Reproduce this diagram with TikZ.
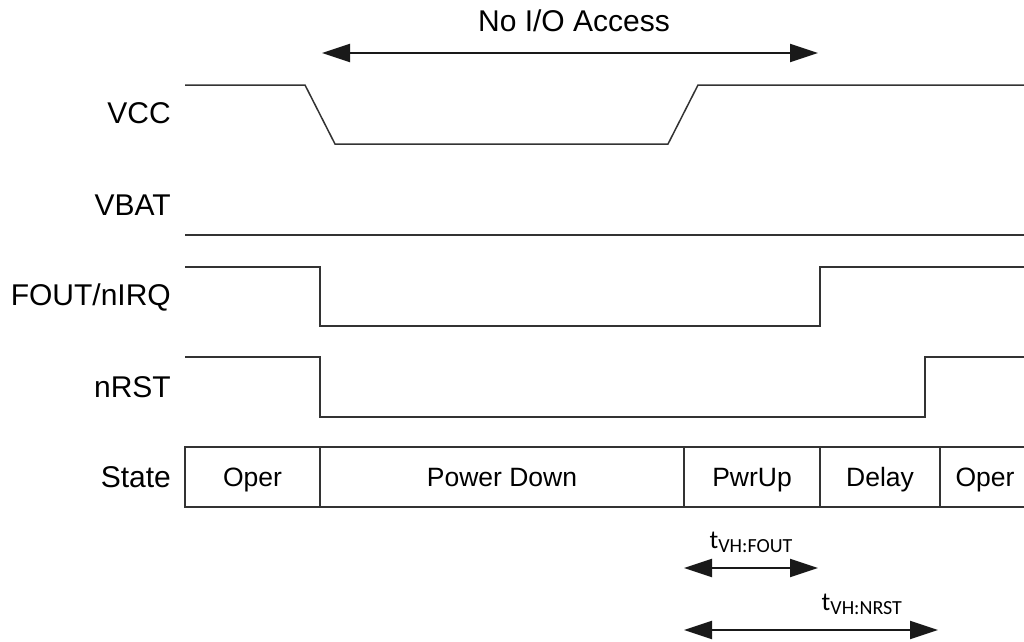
\documentclass[tikz,border=0pt]{standalone}
\usepackage{fontspec}
\setmainfont{Liberation Sans}
\newfontfamily\calibrifont{Carlito}
\usetikzlibrary{arrows.meta}
\usetikzlibrary{positioning}

\newcommand{\tlab}[1]{{\calibrifont\fontsize{26}{30}\selectfont t\raisebox{-4pt}{\fontsize{20}{22}\selectfont #1}}}

\tikzset{
    wave/.style={line width=1.5pt, draw=black!80},
    signame/.style={anchor=east, inner sep=0pt, font=\fontsize{30}{36}\selectfont},
    phase/.style={draw=black!80, line width=1.5pt, minimum height=60pt, outer sep=0pt, inner sep=0pt,
        text height=19pt, text depth=0pt, font=\fontsize{26.5}{30}\selectfont},
    span/.style={{Triangle[length=28pt,width=18pt]}-{Triangle[length=28pt,width=18pt]}, line width=2pt, draw=black!90},
}

\begin{document}
\begin{tikzpicture}[x=1pt, y=-1pt]
            \useasboundingbox (0,0) rectangle (1024,641);

            % signal names
            \node[signame] (n_vcc)   at (171,113) {VCC};
            \node[signame] (n_vbat)  at (171,205) {VBAT};
            \node[signame] (n_fout)  at (171,297) {FOUT/nIRQ};
            \node[signame] (n_rst)   at (171,387) {nRST};
            \node[signame] (n_state) at (171,477) {State};

            % waveforms
            \draw[wave] (185,85) -- (305,85) -- (335,144) -- (668,144) -- (698,85) -- (1030,85);
            \draw[wave] (185,235) -- (1030,235);
            \draw[wave] (185,267) -- (320,267) -- (320,326) -- (820,326) -- (820,267) -- (1030,267);
            \draw[wave] (185,357) -- (320,357) -- (320,417) -- (925,417) -- (925,357) -- (1030,357);

            % state row
            \node[phase, minimum width=135pt, anchor=north west] (s_oper) at (185,447) {Oper};
            \node[phase, minimum width=364pt] (s_down)  [right = 0pt of s_oper] {Power Down};
            \node[phase, minimum width=136pt] (s_up)    [right = 0pt of s_down] {PwrUp};
            \node[phase, minimum width=120pt] (s_delay) [right = 0pt of s_up]   {Delay};
            \node[phase, minimum width=90pt]  (s_oper2) [right = 0pt of s_delay] {Oper};

            % spans
            \coordinate (io_l) at (322,53);
            \coordinate (io_r) at (818,53);
            \coordinate (fo_l) at (684,568);
            \coordinate (fo_r) at (818,568);
            \coordinate (rs_l) at (684,630);
            \coordinate (rs_r) at (938,630);

            \path
                (io_l) edge[span] node[above=17pt, font=\fontsize{30}{36}\selectfont, xshift=4pt] {No I/O Access} (io_r)
                (fo_l) edge[span] node[above=11pt] {\tlab{VH:FOUT}} (fo_r)
                (rs_l) edge[span] node[above=11pt, pos=0.7] {\tlab{VH:NRST}} (rs_r);

        \end{tikzpicture}
\end{document}
